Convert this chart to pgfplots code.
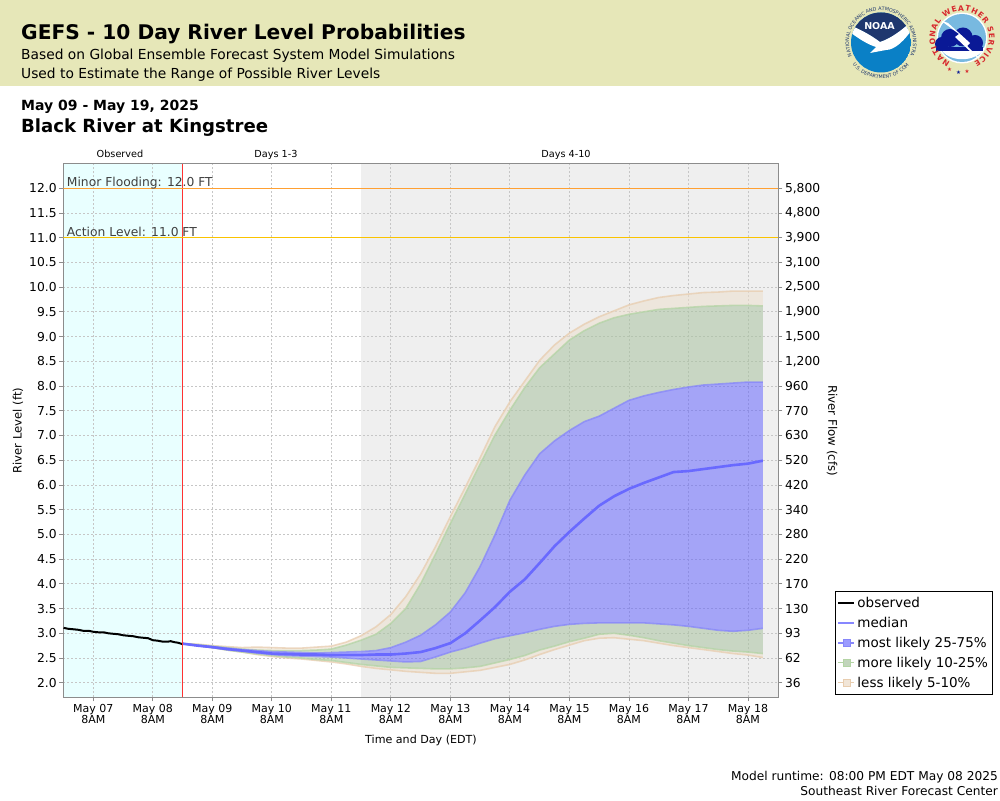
\documentclass[border=0pt]{standalone}
\usepackage{fontspec}
\setmainfont{DejaVu Sans}
\usepackage{pgfplots}
\usepackage{pgfplotstable}
\pgfplotsset{compat=1.18}
\usetikzlibrary{decorations.text}
\newcommand{\fs}[1]{\fontsize{#1pt}{#1pt}\selectfont}
\definecolor{hdr}{RGB}{230,231,184}
\definecolor{gbg}{RGB}{239,239,239}
\definecolor{cbg}{RGB}{233,255,255}
\definecolor{gridc}{RGB}{198,198,198}
\definecolor{axc}{RGB}{140,140,140}
\definecolor{bfill}{RGB}{90,90,255}
\definecolor{gfill}{RGB}{168,195,159}
\definecolor{tfill}{RGB}{237,223,205}
\definecolor{bline}{RGB}{135,135,250}
\definecolor{gline}{RGB}{180,212,165}
\definecolor{tline}{RGB}{232,205,175}
\definecolor{med}{RGB}{105,105,255}
\definecolor{redl}{RGB}{255,50,50}
\definecolor{minorc}{RGB}{255,160,50}
\definecolor{actionc}{RGB}{250,195,0}
\definecolor{lbl}{RGB}{64,64,64}
\definecolor{navy}{RGB}{30,55,110}
\definecolor{noab}{RGB}{10,128,198}
\definecolor{nwsr}{RGB}{215,40,45}
\definecolor{nwsb}{RGB}{10,25,150}
\pgfplotstableread{
x p5 p10 p25 p50 p75 p90 p95
1.50 2.79 2.79 2.79 2.79 2.79 2.79 2.79
1.75 2.75 2.75 2.75 2.75 2.76 2.77 2.78
2.00 2.71 2.71 2.71 2.72 2.73 2.74 2.75
2.25 2.66 2.66 2.67 2.68 2.70 2.71 2.73
2.50 2.62 2.62 2.64 2.65 2.67 2.68 2.71
2.75 2.57 2.58 2.60 2.62 2.65 2.66 2.72
3.00 2.53 2.55 2.57 2.59 2.63 2.65 2.71
3.25 2.50 2.52 2.55 2.58 2.62 2.65 2.70
3.50 2.48 2.50 2.54 2.57 2.61 2.65 2.70
3.75 2.45 2.47 2.53 2.57 2.60 2.66 2.72
4.00 2.42 2.45 2.52 2.56 2.61 2.68 2.74
4.25 2.38 2.41 2.50 2.56 2.62 2.76 2.82
4.50 2.33 2.37 2.48 2.56 2.63 2.86 2.95
4.75 2.29 2.34 2.46 2.57 2.65 2.98 3.13
5.00 2.26 2.31 2.44 2.57 2.71 3.20 3.38
5.25 2.23 2.30 2.42 2.59 2.82 3.50 3.74
5.50 2.21 2.29 2.43 2.62 2.96 4.00 4.20
5.75 2.19 2.28 2.52 2.70 3.17 4.60 4.75
6.00 2.19 2.28 2.62 2.80 3.43 5.22 5.36
6.25 2.22 2.30 2.70 3.00 3.82 5.82 5.95
6.50 2.25 2.33 2.80 3.26 4.35 6.42 6.55
6.75 2.31 2.40 2.89 3.53 4.99 7.01 7.18
7.00 2.37 2.47 2.95 3.84 5.69 7.51 7.68
7.25 2.46 2.55 3.01 4.09 6.20 7.97 8.10
7.50 2.57 2.66 3.08 4.42 6.63 8.37 8.52
7.75 2.67 2.74 3.14 4.76 6.89 8.65 8.83
8.00 2.76 2.83 3.18 5.05 7.10 8.93 9.07
8.25 2.85 2.90 3.20 5.32 7.28 9.12 9.25
8.50 2.90 2.98 3.21 5.58 7.39 9.27 9.40
8.75 2.91 3.00 3.21 5.77 7.55 9.38 9.52
9.00 2.88 2.96 3.21 5.92 7.71 9.45 9.64
9.25 2.85 2.91 3.21 6.04 7.80 9.50 9.72
9.50 2.80 2.85 3.19 6.15 7.87 9.55 9.79
9.75 2.75 2.80 3.17 6.26 7.93 9.57 9.83
10.00 2.71 2.75 3.14 6.28 7.98 9.59 9.86
10.25 2.67 2.71 3.10 6.32 8.02 9.61 9.89
10.50 2.63 2.67 3.06 6.36 8.04 9.62 9.90
10.75 2.59 2.64 3.04 6.40 8.06 9.63 9.92
11.00 2.56 2.62 3.06 6.43 8.08 9.63 9.92
11.25 2.51 2.59 3.10 6.49 8.08 9.62 9.92
}\bandtable
\pgfplotstablesort[sort key=x,sort cmp=float >]{\bandrev}{\bandtable}
\pgfplotstablevertcat{\bandring}{\bandtable}
\pgfplotstablevertcat{\bandring}{\bandrev}
\pgfplotstableread{
x y
-0.50 3.11
-0.42 3.09
-0.33 3.08
-0.25 3.07
-0.17 3.05
-0.08 3.05
0.00 3.03
0.08 3.02
0.17 3.02
0.25 3.00
0.33 2.99
0.42 2.98
0.50 2.96
0.58 2.95
0.67 2.94
0.75 2.92
0.83 2.91
0.92 2.90
1.00 2.86
1.08 2.85
1.17 2.83
1.25 2.83
1.30 2.84
1.36 2.82
1.42 2.81
1.50 2.78
}\obstable
\begin{document}
\begin{tikzpicture}
\path[use as bounding box] (0pt,0pt) rectangle (1000pt,800pt);
\begin{scope}[yshift=800pt,x=1pt,y=-1pt]
\fill[white] (0,0) rectangle (1000,800);
\fill[hdr] (0,0) rectangle (1000,86);
\node[anchor=base west,inner sep=0pt] at (21,40) {\fs{20.2}\bfseries GEFS - 10 Day River Level Probabilities};
\node[anchor=base west,inner sep=0pt] at (21,59.3) {\fs{13.8}Based on Global Ensemble Forecast System Model Simulations};
\node[anchor=base west,inner sep=0pt] at (21,78.3) {\fs{13.8}Used to Estimate the Range of Possible River Levels};
\node[anchor=base west,inner sep=0pt] at (21,110.7) {\fs{14}\bfseries May 09 - May 19, 2025};
\node[anchor=base west,inner sep=0pt] at (21,132.3) {\fs{18.1}\bfseries Black River at Kingstree};
\node[anchor=base,inner sep=0pt] at (120,157.3) {\fs{9.7}Observed};
\node[anchor=base,inner sep=0pt] at (276,157.3) {\fs{9.7}Days 1-3};
\node[anchor=base,inner sep=0pt] at (566,157.3) {\fs{9.7}Days 4-10};
\node[anchor=base east,inner sep=0pt] at (998,780) {\fs{12.2}Model runtime: 08:00 PM EDT May 08 2025};
\node[anchor=base east,inner sep=0pt] at (998,795.5) {\fs{12.2}Southeast River Forecast Center};
% NOAA emblem
\begin{scope}
\clip (881,42.5) circle (30);
\fill[noab] (881,42.5) circle (30);
\fill[navy] (845,5) -- (920,5) -- (920,18) -- (913,20) .. controls (902,30) and (892,38) .. (880,42) .. controls (872,36) and (862,30) .. (847,24) -- cycle;
\fill[white] (847,24) .. controls (862,30) and (872,36) .. (880,42) .. controls (892,38) and (902,30) .. (913,20) -- (913,28) .. controls (905,40) and (895,50) .. (886,50) -- (870,53) -- (876,47) .. controls (866,44) and (855,36) .. (847,30) -- cycle;
\end{scope}
\node[inner sep=0pt,text=white] at (879.5,26) {\fs{9.5}\bfseries NOAA};
% NWS emblem
\fill[white] (962,38) circle (25.5);
\fill[noab!55!white] (962,38) circle (24);
\fill[white] (940,48) .. controls (948,63) and (976,63) .. (985,48) -- cycle;
\fill[nwsb] (942,44) circle (7);
\fill[nwsb] (950,38) circle (9);
\fill[nwsb] (963,37) circle (9.5);
\fill[nwsb] (975,43) circle (8);
\fill[nwsb] (936,47) rectangle (983,51);
\fill[white] (940,20) -- (959,34) -- (955,37) -- (974,55) -- (981,60) -- (967,46) -- (970,43) -- (948,23) -- cycle;
\node[inner sep=0pt,text=nwsr] at (949.5,70) {\fs{5.5}★};
\node[inner sep=0pt,text=nwsb] at (958.5,72.5) {\fs{5.5}★};
\node[inner sep=0pt,text=nwsr] at (967,72) {\fs{5.5}★};
\end{scope}
% ring texts
\begin{scope}[shift={(881pt,757.5pt)}]
\path[decorate,decoration={text along path,text align={fit to path},
 text={|\fs{4.8}\color{navy}|NATIONAL OCEANIC AND ATMOSPHERIC ADMINISTRATION}}]
 (205:32pt) arc[start angle=205,end angle=-25,radius=32pt];
\path[decorate,decoration={text along path,text align={fit to path},
 text={|\fs{4.8}\color{navy}|U.S. DEPARTMENT OF COMMERCE}}]
 (218:36pt) arc[start angle=218,end angle=322,radius=36pt];
\end{scope}
\begin{scope}[shift={(962pt,762pt)}]
\path[decorate,decoration={text along path,text align={fit to path},
 text={|\fs{7.6}\bfseries\color{nwsr}|NATIONAL WEATHER SERVICE}}]
 (244:27pt) arc[start angle=244,end angle=-64,radius=27pt];
\end{scope}
\begin{axis}[
 at={(63.3pt,102.7pt)},anchor=south west,
 width=715pt,height=533.3pt,scale only axis,
 xmin=-0.504,xmax=11.51,ymin=1.705,ymax=12.49,
 hide axis,
]
\addplot[fill=gbg,draw=none,forget plot] coordinates {(4.5,1.705)(11.51,1.705)(11.51,12.49)(4.5,12.49)} -- cycle;
\addplot[fill=cbg,draw=none,forget plot] coordinates {(-0.504,1.705)(1.5,1.705)(1.5,12.49)(-0.504,12.49)} -- cycle;
\end{axis}
\begin{axis}[
 at={(63.3pt,102.7pt)},anchor=south west,
 width=715pt,height=533.3pt,scale only axis,
 xmin=-0.504,xmax=11.51,ymin=1.705,ymax=12.49,
 axis line style={axc,line width=1pt},
 tick style={axc,line width=.8pt},
 major tick length=4pt,
 tick align=outside,
 xtick={0,...,11},
 xticklabels={{May 07\\8AM},{May 08\\8AM},{May 09\\8AM},{May 10\\8AM},{May 11\\8AM},{May 12\\8AM},{May 13\\8AM},{May 14\\8AM},{May 15\\8AM},{May 16\\8AM},{May 17\\8AM},{May 18\\8AM}},
 xticklabel style={align=center,font=\fs{11},inner sep=0pt,yshift=-3pt},
 ytick={2,2.5,3,3.5,4,4.5,5,5.5,6,6.5,7,7.5,8,8.5,9,9.5,10,10.5,11,11.5,12},
 yticklabels={2.0,2.5,3.0,3.5,4.0,4.5,5.0,5.5,6.0,6.5,7.0,7.5,8.0,8.5,9.0,9.5,10.0,10.5,11.0,11.5,12.0},
 yticklabel style={font=\fs{12.3},inner sep=0pt,xshift=-2.5pt},
 xtick pos=bottom,ytick pos=left,
 ymajorgrids,xmajorgrids,
 grid style={gridc,dash pattern=on 2pt off 2pt,line width=.8pt},
 xlabel={Time and Day (EDT)},ylabel={River Level (ft)},
 every axis x label/.style={at={(axis description cs:0.5003,-0.08)},anchor=center,font=\fs{11.1}},
 every axis y label/.style={at={(axis description cs:-0.0634,0.5)},anchor=center,rotate=90,font=\fs{11.6}},
 legend cell align=left,
 legend style={at={(axis description cs:1.0793,0.1993)},anchor=north west,draw=black,line width=.9pt,
   font=\fs{13.5},row sep=4.2pt,inner xsep=2pt,inner ysep=3.5pt,fill=white},
]
\addplot[fill=tfill,fill opacity=.55,draw=none,forget plot] table[x=x,y expr={\coordindex<40?\thisrow{p95}:\thisrow{p90}}]{\bandring} -- cycle;
\addplot[fill=tfill,fill opacity=.55,draw=none,forget plot] table[x=x,y expr={\coordindex<40?\thisrow{p10}:\thisrow{p5}}]{\bandring} -- cycle;
\addplot[fill=gfill,fill opacity=.55,draw=none,forget plot] table[x=x,y expr={\coordindex<40?\thisrow{p90}:\thisrow{p75}}]{\bandring} -- cycle;
\addplot[fill=gfill,fill opacity=.55,draw=none,forget plot] table[x=x,y expr={\coordindex<40?\thisrow{p25}:\thisrow{p10}}]{\bandring} -- cycle;
\addplot[fill=bfill,fill opacity=.5,draw=none,forget plot] table[x=x,y expr={\coordindex<40?\thisrow{p75}:\thisrow{p25}}]{\bandring} -- cycle;
\addplot[tline,line width=1.6pt,opacity=.75,forget plot] table[x=x,y=p95]{\bandtable};
\addplot[tline,line width=1.6pt,opacity=.75,forget plot] table[x=x,y=p5]{\bandtable};
\addplot[gline,line width=1.6pt,opacity=.75,forget plot] table[x=x,y=p90]{\bandtable};
\addplot[gline,line width=1.6pt,opacity=.75,forget plot] table[x=x,y=p10]{\bandtable};
\addplot[bline,line width=1.6pt,opacity=.75,forget plot] table[x=x,y=p75]{\bandtable};
\addplot[bline,line width=1.6pt,opacity=.75,forget plot] table[x=x,y=p25]{\bandtable};
\addplot[med,line width=2.6pt,forget plot] table[x=x,y=p50]{\bandtable};
\addplot[black,line width=2pt,forget plot] table[x=x,y=y]{\obstable};
\addplot[redl,line width=1.1pt,forget plot] coordinates {(1.5,1.705)(1.5,12.49)};
\addplot[color=minorc,line width=1.3pt,forget plot] coordinates {(-0.504,12)(11.51,12)};
\addplot[color=actionc,line width=1.6pt,forget plot] coordinates {(-0.504,11)(11.51,11)};
\node[anchor=base west,inner sep=0pt,text=lbl,font=\fs{12.3}] at (axis cs:-0.446,12.03) {Minor Flooding: 12.0 FT};
\node[anchor=base west,inner sep=0pt,text=lbl,font=\fs{12.3}] at (axis cs:-0.446,11.03) {Action Level: 11.0 FT};
\addlegendimage{legend image code/.code={\draw[black,line width=2pt] (0pt,0pt) -- (16pt,0pt);}}
\addlegendentry{observed}
\addlegendimage{legend image code/.code={\draw[med!80!white,line width=2pt] (0pt,0pt) -- (16pt,0pt);}}
\addlegendentry{median}
\addlegendimage{legend image code/.code={\draw[bline,line width=1.5pt] (0pt,0pt) -- (16pt,0pt);\fill[bfill!60!white,draw=bline] (4.5pt,-3.5pt) rectangle (11.5pt,3.5pt);}}
\addlegendentry{most likely 25-75\%}
\addlegendimage{legend image code/.code={\draw[gline,line width=1.5pt] (0pt,0pt) -- (16pt,0pt);\fill[gfill!70!white,draw=gline] (4.5pt,-3.5pt) rectangle (11.5pt,3.5pt);}}
\addlegendentry{more likely 10-25\%}
\addlegendimage{legend image code/.code={\draw[tline,line width=1.5pt] (0pt,0pt) -- (16pt,0pt);\fill[tfill!80!white,draw=tline] (4.5pt,-3.5pt) rectangle (11.5pt,3.5pt);}}
\addlegendentry{less likely 5-10\%}
\end{axis}
\begin{axis}[
 at={(63.3pt,102.7pt)},anchor=south west,
 width=715pt,height=533.3pt,scale only axis,
 xmin=-0.504,xmax=11.51,ymin=1.705,ymax=12.49,
 axis x line=none,axis y line*=right,
 axis line style={axc,line width=1pt,-},
 tick style={axc,line width=.8pt},
 major tick length=4pt,tick align=outside,
 ytick={2,2.5,3,3.5,4,4.5,5,5.5,6,6.5,7,7.5,8,8.5,9,9.5,10,10.5,11,11.5,12},
 yticklabels={36,62,93,130,170,220,280,340,420,520,630,770,960,{1,200},{1,500},{1,900},{2,500},{3,100},{3,900},{4,800},{5,800}},
 yticklabel style={font=\fs{12.3},inner sep=0pt,xshift=2.5pt},
 ylabel={River Flow (cfs)},
 every axis y label/.style={at={(axis description cs:1.0751,0.5)},anchor=center,rotate=-90,font=\fs{11.8}},
]
\addplot[draw=none,forget plot] coordinates {(0,2)(1,3)};
\end{axis}
\end{tikzpicture}
\end{document}
